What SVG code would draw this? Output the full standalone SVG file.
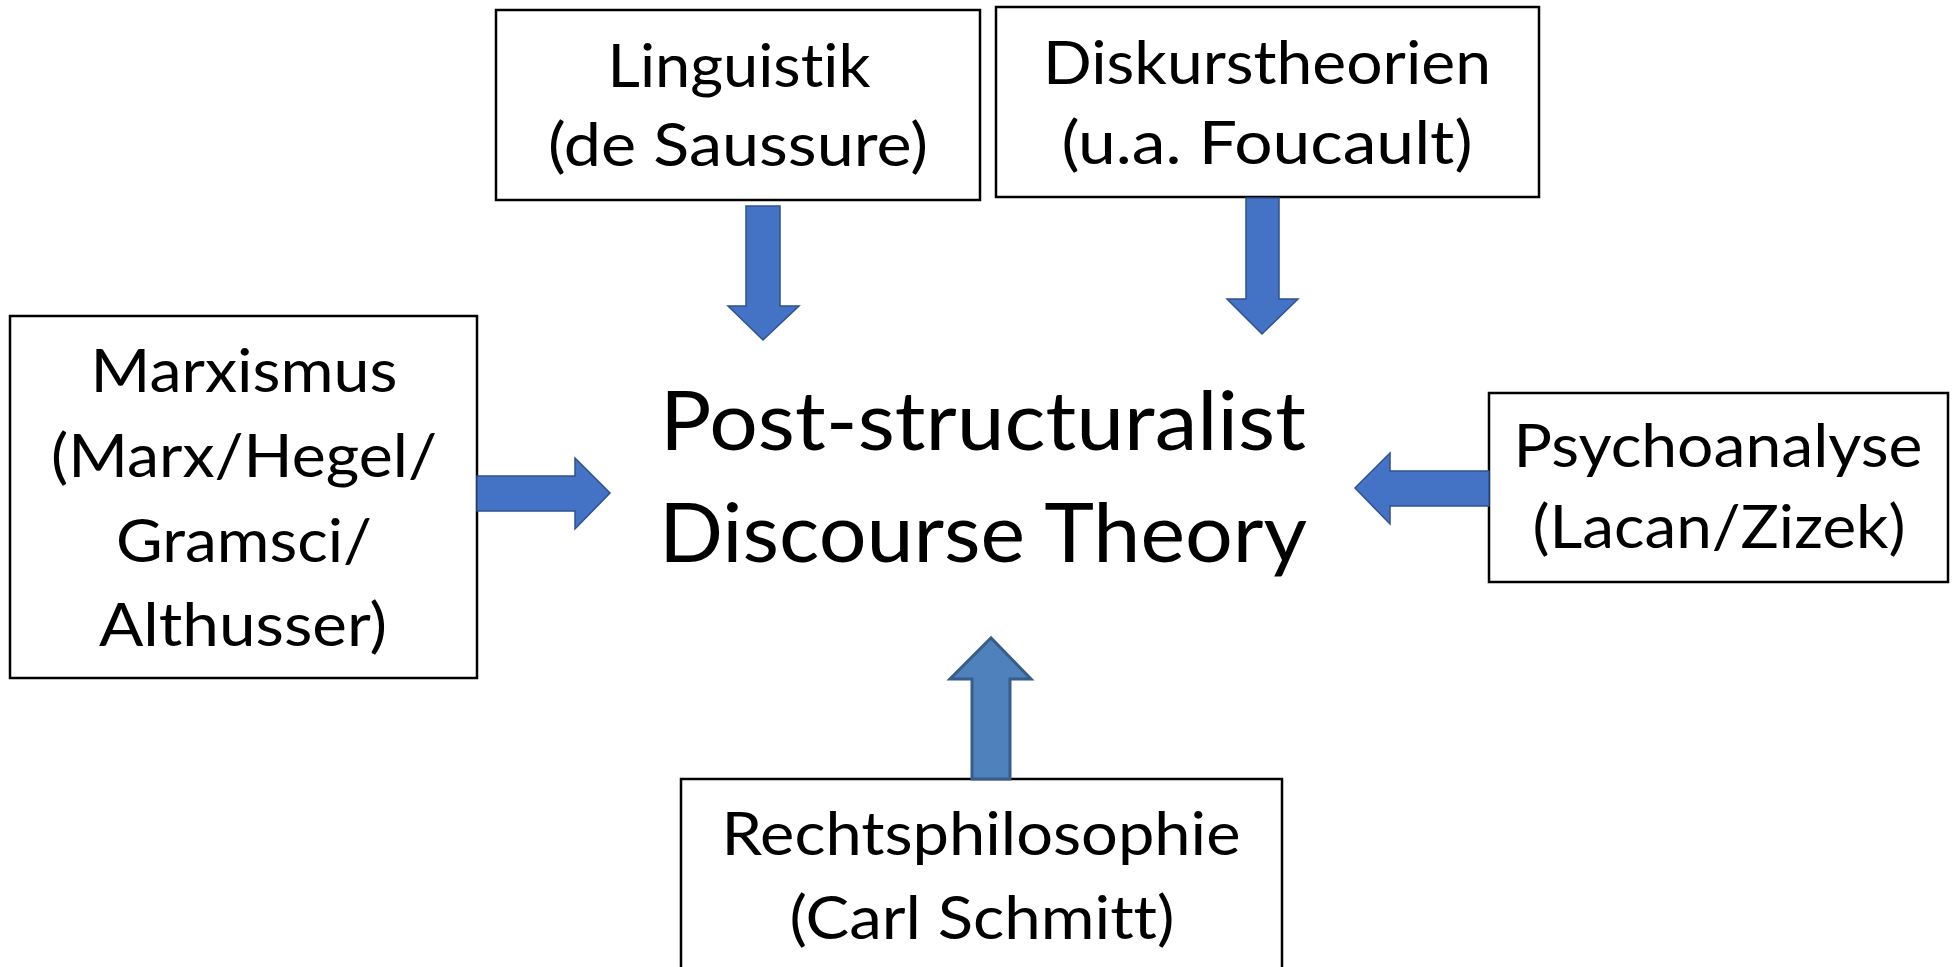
<svg xmlns="http://www.w3.org/2000/svg" width="1957" height="967" viewBox="0 0 1957 967">
<style>
.box{fill:#ffffff;stroke:#000000;stroke-width:2.5}
.t{font-family:Lato,"Liberation Sans",sans-serif;font-size:60px;fill:#000000;text-anchor:middle;font-variant-ligatures:none;font-feature-settings:"liga" 0,"dlig" 0}
.big{font-family:Lato,"Liberation Sans",sans-serif;font-size:81px;fill:#000000;text-anchor:middle;font-variant-ligatures:none;font-feature-settings:"liga" 0,"dlig" 0}
.arr{fill:#4472C4;stroke:#2F528F;stroke-width:1.5;stroke-linejoin:miter}
.arr2{fill:#4F81BD;stroke:#385D8A;stroke-width:3;stroke-linejoin:miter}
</style>
<rect width="1957" height="967" fill="#ffffff"/>
<g id="center">
<text class="big" x="983" y="450" textLength="646" lengthAdjust="spacingAndGlyphs">Post-structuralist</text>
<text class="big" x="983" y="562" textLength="648" lengthAdjust="spacingAndGlyphs">Discourse Theory</text>
</g>
<g id="linguistik">
<rect class="box" x="496" y="10" width="484" height="190"/>
<text class="t" x="739" y="87" textLength="263" lengthAdjust="spacingAndGlyphs">Linguistik</text>
<text class="t" x="738" y="166" textLength="380" lengthAdjust="spacingAndGlyphs">(de Saussure)</text>
</g>
<g id="diskurs">
<rect class="box" x="996" y="7" width="543" height="190"/>
<text class="t" x="1267" y="84" textLength="448" lengthAdjust="spacingAndGlyphs">Diskurstheorien</text>
<text class="t" x="1267" y="164" textLength="411" lengthAdjust="spacingAndGlyphs">(u.a. Foucault)</text>
</g>
<g id="marxismus">
<rect class="box" x="10" y="316" width="467" height="362"/>
<text class="t" x="244" y="392" textLength="307" lengthAdjust="spacingAndGlyphs">Marxismus</text>
<text class="t" x="244" y="477" textLength="386" lengthAdjust="spacingAndGlyphs">(Marx/Hegel/</text>
<text class="t" x="244" y="562" textLength="256" lengthAdjust="spacingAndGlyphs">Gramsci/</text>
<text class="t" x="243" y="646" textLength="288" lengthAdjust="spacingAndGlyphs">Althusser)</text>
</g>
<g id="psychoanalyse">
<rect class="box" x="1489" y="393" width="459" height="189"/>
<text class="t" x="1718" y="467" textLength="409" lengthAdjust="spacingAndGlyphs">Psychoanalyse</text>
<text class="t" x="1719" y="548" textLength="373" lengthAdjust="spacingAndGlyphs">(Lacan/Zizek)</text>
</g>
<g id="rechtsphilosophie">
<rect class="box" x="681" y="779" width="601" height="200"/>
<text class="t" x="981" y="855" textLength="519" lengthAdjust="spacingAndGlyphs">Rechtsphilosophie</text>
<text class="t" x="982" y="939" textLength="385" lengthAdjust="spacingAndGlyphs">(Carl Schmitt)</text>
</g>
<g id="connectors">
<polygon class="arr" points="746,206 780,206 780,306 799,306 763,340 728,306 746,306"/>
<polygon class="arr" points="1246,198 1279,198 1279,299 1298,299 1262,334 1227,299 1246,299"/>
<polygon class="arr" points="477,476 575,476 575,458 610,493 575,529 575,511 477,511"/>
<polygon class="arr" points="1489,471 1390,471 1390,453 1355,488 1390,524 1390,506 1489,506"/>
<polygon class="arr2" points="972,779 972,679 950,679 991,638 1031,679 1010,679 1010,779"/>
</g>
</svg>
